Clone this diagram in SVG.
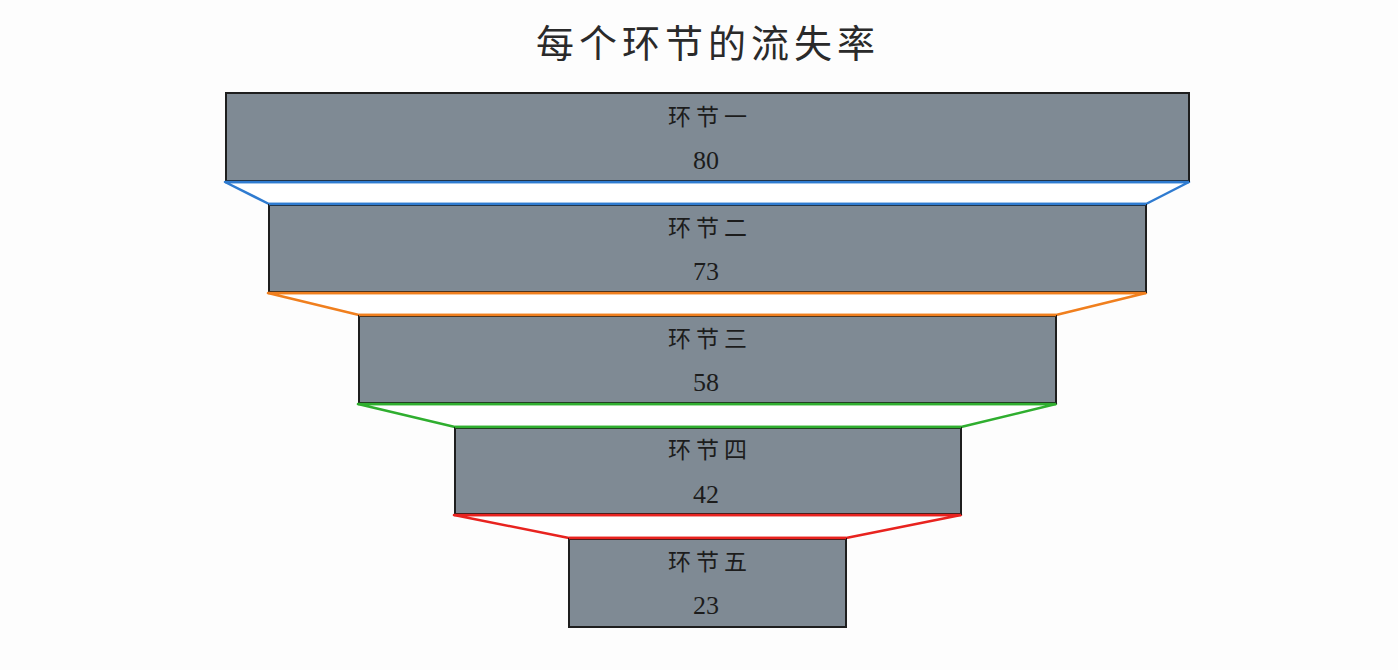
<svg xmlns="http://www.w3.org/2000/svg" width="1398" height="670" viewBox="0 0 1398 670">
<style>
.bg{fill:#fdfdfd}
.box{fill:#7f8a94;stroke:#1e1e1e;stroke-width:2}
.conn{fill:#ffffff;stroke-width:2.5;stroke-linejoin:round}
.lbl{font-family:"Liberation Serif","Noto Sans CJK SC",serif;font-size:23px;fill:#1c1c1c;text-anchor:middle}
.num{font-size:26px}
.cn{letter-spacing:5px}
.title{font-family:"Liberation Serif","Noto Sans CJK SC",serif;font-size:38px;fill:#2a2a2a;text-anchor:middle;letter-spacing:5px}
</style>
<rect class="bg" width="1398" height="670"/>
<text class="title" x="708" y="57">每个环节的流失率</text>
<g id="connectors">
<polygon class="conn" stroke="#2f7bd0" points="225,182 1189,182 1146,204 269,204"/>
<polygon class="conn" stroke="#f07f1e" points="268,293 1146,293 1056,315 359,315"/>
<polygon class="conn" stroke="#2fae2f" points="358,404 1056,404 961,427 455,427"/>
<polygon class="conn" stroke="#e8231f" points="454,515 961,515 846,538 569,538"/>
</g>
<g id="node1">
<rect class="box" x="226" y="93" width="963" height="88"/>
<text class="lbl cn" x="710" y="125">环节一</text>
<text class="lbl num" x="706" y="169">80</text>
</g>
<g id="node2">
<rect class="box" x="269" y="205" width="877" height="87"/>
<text class="lbl cn" x="710" y="236">环节二</text>
<text class="lbl num" x="706" y="280">73</text>
</g>
<g id="node3">
<rect class="box" x="359" y="316" width="697" height="87"/>
<text class="lbl cn" x="710" y="347">环节三</text>
<text class="lbl num" x="706" y="391">58</text>
</g>
<g id="node4">
<rect class="box" x="455" y="428" width="506" height="86"/>
<text class="lbl cn" x="710" y="458">环节四</text>
<text class="lbl num" x="706" y="503">42</text>
</g>
<g id="node5">
<rect class="box" x="569" y="539" width="277" height="88"/>
<text class="lbl cn" x="710" y="570">环节五</text>
<text class="lbl num" x="706" y="614">23</text>
</g>
<g id="edges-over">
<line x1="225" y1="182" x2="1189" y2="182" stroke="#2f7bd0" stroke-width="2.5"/>
<line x1="269" y1="204" x2="1146" y2="204" stroke="#2f7bd0" stroke-width="2.5"/>
<line x1="268" y1="293" x2="1146" y2="293" stroke="#f07f1e" stroke-width="2.5"/>
<line x1="359" y1="315" x2="1056" y2="315" stroke="#f07f1e" stroke-width="2.5"/>
<line x1="358" y1="404" x2="1056" y2="404" stroke="#2fae2f" stroke-width="2.5"/>
<line x1="455" y1="427" x2="961" y2="427" stroke="#2fae2f" stroke-width="2.5"/>
<line x1="454" y1="515" x2="961" y2="515" stroke="#e8231f" stroke-width="2.5"/>
<line x1="569" y1="538" x2="846" y2="538" stroke="#e8231f" stroke-width="2.5"/>
</g>
</svg>
